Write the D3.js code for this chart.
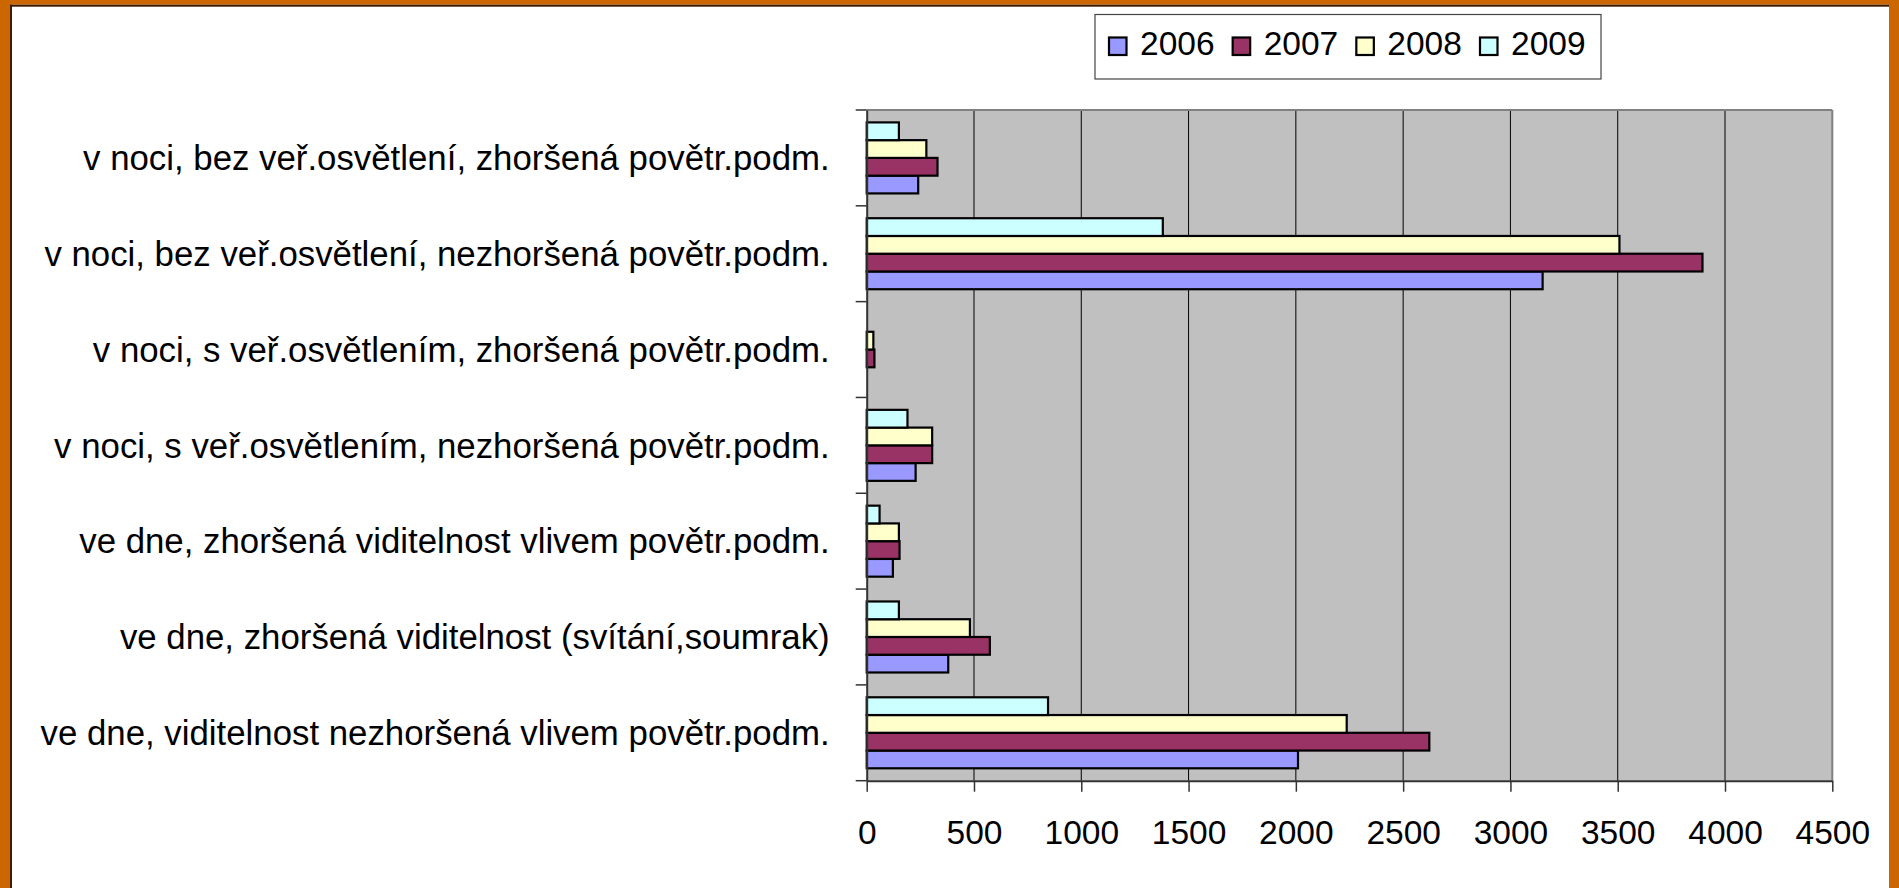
<!DOCTYPE html>
<html>
<head>
<meta charset="utf-8">
<script src="https://cdn.jsdelivr.net/npm/d3@7"></script>
<style>
  html, body { margin: 0; padding: 0; background: #fff; }
  svg { display: block; }
  text { font-family: "Liberation Sans", Arial, sans-serif; fill: #000; }
</style>
</head>
<body>
<svg id="chart" width="1899" height="888"></svg>
<script>
const categories = [
  "v noci, bez veř.osvětlení, zhoršená povětr.podm.",
  "v noci, bez veř.osvětlení, nezhoršená povětr.podm.",
  "v noci, s veř.osvětlením, zhoršená povětr.podm.",
  "v noci, s veř.osvětlením, nezhoršená povětr.podm.",
  "ve dne, zhoršená viditelnost vlivem povětr.podm.",
  "ve dne, zhoršená viditelnost (svítání,soumrak)",
  "ve dne, viditelnost nezhoršená vlivem povětr.podm."
];
const seriesNames = ["2006", "2007", "2008", "2009"];
const values2006 = [240, 3150, 0, 228, 122, 380, 2010];
const values2007 = [330, 3895, 36, 305, 153, 574, 2622];
const values2008 = [278, 3508, 31, 305, 150, 481, 2237];
const values2009 = [150, 1380, 0, 190, 60, 150, 845];
const xTicks = [0, 500, 1000, 1500, 2000, 2500, 3000, 3500, 4000, 4500];
const colors = ["#9999FF", "#993366", "#FFFFCC", "#CCFFFF"];

const seriesValues = [values2006, values2007, values2008, values2009];

const svg = d3.select("#chart");

// frame
svg.append("rect").attr("x", 0).attr("y", 0).attr("width", 1899).attr("height", 888).attr("fill", "#fff");
svg.append("rect").attr("x", 0).attr("y", 0).attr("width", 10).attr("height", 888).attr("fill", "#CC6600");
svg.append("rect").attr("x", 0).attr("y", 0).attr("width", 1899).attr("height", 4.7).attr("fill", "#CC6600");
svg.append("rect").attr("x", 1889).attr("y", 0).attr("width", 10).attr("height", 888).attr("fill", "#CC6600");
svg.append("rect").attr("x", 10).attr("y", 4.7).attr("width", 2).attr("height", 888).attr("fill", "#3a1c00");
svg.append("rect").attr("x", 10).attr("y", 4.7).attr("width", 1879).attr("height", 2).attr("fill", "#3a1c00");

// plot area
const pLeft = 866.7, pRight = 1832.3, pTop = 110, pBottom = 780.7;

const x = d3.scaleLinear().domain([0, 4500]).range([pLeft, pRight]);
const y = d3.scaleBand().domain(categories).range([pTop, pBottom]).paddingInner(0).paddingOuter(0);
const inner = d3.scaleBand().domain(["2009", "2008", "2007", "2006"])
  .range([12.4, y.bandwidth() - 12.4]);

svg.append("rect").attr("x", pLeft).attr("y", pTop)
  .attr("width", pRight - pLeft).attr("height", pBottom - pTop).attr("fill", "#C0C0C0");

// gridlines
svg.append("g").selectAll("line").data(xTicks.filter(d => d > 0 && d < 4500)).join("line")
  .attr("x1", d => x(d)).attr("x2", d => x(d))
  .attr("y1", pTop).attr("y2", pBottom)
  .attr("stroke", "#000").attr("stroke-width", 1);

// top & right plot border
svg.append("line").attr("x1", pLeft).attr("x2", pRight).attr("y1", pTop).attr("y2", pTop)
  .attr("stroke", "#808080").attr("stroke-width", 2);
svg.append("line").attr("x1", pRight).attr("x2", pRight).attr("y1", pTop).attr("y2", pBottom)
  .attr("stroke", "#808080").attr("stroke-width", 2);

// bars
const barData = [];
categories.forEach((c, i) => {
  seriesNames.forEach((s, j) => {
    barData.push({ cat: c, series: s, value: seriesValues[j][i], color: colors[j] });
  });
});

svg.append("g").selectAll("rect").data(barData.filter(d => d.value > 0)).join("rect")
  .attr("x", x(0))
  .attr("y", d => y(d.cat) + inner(d.series))
  .attr("width", d => x(d.value) - x(0))
  .attr("height", inner.bandwidth())
  .attr("fill", d => d.color)
  .attr("stroke", "#000")
  .attr("stroke-width", 2.2);

// x axis
const xAxis = svg.append("g").attr("transform", `translate(0,${pBottom})`)
  .call(d3.axisBottom(x).tickValues(xTicks).tickSize(11).tickSizeOuter(0).tickFormat(d3.format("d")));
xAxis.select(".domain").attr("stroke", "#333").attr("stroke-width", 2);
xAxis.selectAll(".tick line").attr("stroke", "#333").attr("stroke-width", 1.5);
xAxis.selectAll(".tick text")
  .attr("y", 63).attr("dy", 0)
  .style("font-family", "'Liberation Sans', Arial, sans-serif")
  .style("font-size", "33.5px").attr("fill", "#000");

// y axis
const yAxis = svg.append("g").attr("transform", `translate(${pLeft},0)`)
  .call(d3.axisLeft(y).tickSize(0).tickPadding(37));
yAxis.select(".domain").attr("stroke", "#333").attr("stroke-width", 2);
yAxis.selectAll(".tick text")
  .attr("dy", "0.35em")
  .style("font-family", "'Liberation Sans', Arial, sans-serif")
  .style("font-size", "34.8px").attr("fill", "#000");

// category separator ticks
const boundaries = d3.range(categories.length + 1).map(i => pTop + i * y.step());
svg.append("g").selectAll("line").data(boundaries).join("line")
  .attr("x1", pLeft - 11).attr("x2", pLeft)
  .attr("y1", d => d).attr("y2", d => d)
  .attr("stroke", "#333").attr("stroke-width", 1.5);

// legend
const lg = svg.append("g");
lg.append("rect").attr("x", 1095).attr("y", 14.5).attr("width", 506).attr("height", 64.5)
  .attr("fill", "#fff").attr("stroke", "#444").attr("stroke-width", 1.2);
const legendX = d3.scalePoint().domain(seriesNames).range([1109, 1480]);
const items = lg.selectAll("g.item").data(seriesNames).join("g").attr("class", "item")
  .attr("transform", d => `translate(${legendX(d)},0)`);
items.append("rect").attr("x", 0).attr("y", 37.5).attr("width", 17.5).attr("height", 17.5)
  .attr("fill", (d, i) => colors[i]).attr("stroke", "#000").attr("stroke-width", 2.2);
items.append("text").attr("x", 31).attr("y", 55).text(d => d)
  .style("font-size", "33.5px");
</script>
</body>
</html>
